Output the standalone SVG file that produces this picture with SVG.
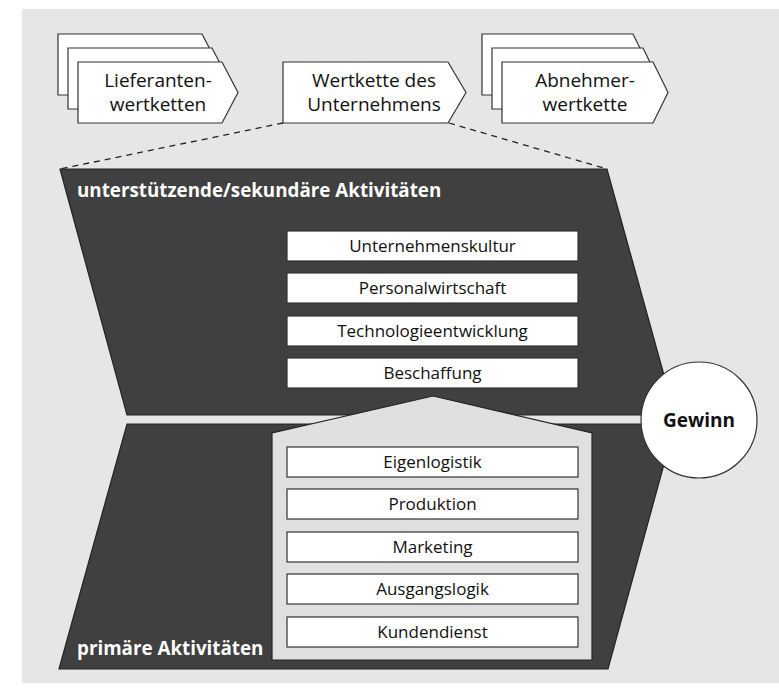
<svg xmlns="http://www.w3.org/2000/svg" width="779" height="689" viewBox="0 0 779 689">
<style>
.bg{fill:#e6e6e6}
.card{fill:#fff;stroke:#333;stroke-width:1.2}
.dark{fill:#404040;stroke:#222;stroke-width:1.2}
.house{fill:#e0e0e0;stroke:#222;stroke-width:1.2}
.box{fill:#fff;stroke:#333;stroke-width:1.2}
.t{font-family:"Open Sans","Noto Sans",sans-serif;fill:#111;text-anchor:middle}
.big{font-size:19px}
.small{font-size:17px}
.hd{font-family:"Open Sans","Noto Sans",sans-serif;font-weight:bold;font-size:18.8px;fill:#fff}
.gw{font-family:"Open Sans","Noto Sans",sans-serif;font-weight:bold;font-size:19px;fill:#111;text-anchor:middle}
.dash{fill:none;stroke:#222;stroke-width:1.3;stroke-dasharray:6 5}
</style>
<rect class="bg" x="22" y="9" width="757" height="674"/>

<g id="lieferanten">
<path class="card" d="M58,34 H202 L218,64.5 L202,95 H58 Z"/>
<path class="card" d="M68,48 H212 L228,78.5 L212,109 H68 Z"/>
<path class="card" d="M78,62 H222 L238,92.5 L222,123 H78 Z"/>
<text class="t big" x="158" y="87">Lieferanten-</text>
<text class="t big" x="158" y="111">wertketten</text>
</g>

<g id="unternehmen">
<path class="card" d="M283,62 H448 L466,92.5 L448,123 H283 Z"/>
<text class="t big" x="374" y="87">Wertkette des</text>
<text class="t big" x="374" y="111">Unternehmens</text>
</g>

<g id="abnehmer">
<path class="card" d="M482,34 H633 L648,64.5 L633,95 H482 Z"/>
<path class="card" d="M492,48 H643 L658,78.5 L643,109 H492 Z"/>
<path class="card" d="M502,62 H653 L668,92.5 L653,123 H502 Z"/>
<text class="t big" x="585" y="87">Abnehmer-</text>
<text class="t big" x="585" y="111">wertkette</text>
</g>

<g id="connectors">
<line class="dash" x1="283" y1="123" x2="60" y2="169"/>
<line class="dash" x1="449" y1="123" x2="607" y2="169"/>
</g>

<g id="sekundaer">
<path class="dark" d="M60,169 H607 L675,415 H127 Z"/>
<text class="hd" x="77" y="197">unterstützende/sekundäre Aktivitäten</text>
</g>

<g id="primaer">
<path class="dark" d="M127,424 H675 L608,669 H59 Z"/>
<path class="house" d="M433,396 L592,433 V660 H272 V433 Z"/>
<text class="hd" x="77" y="655">primäre Aktivitäten</text>
</g>

<g id="unternehmenskultur">
<rect class="box" x="287" y="231" width="291" height="30"/>
<text class="t small" x="432.5" y="252">Unternehmenskultur</text>
</g>
<g id="personalwirtschaft">
<rect class="box" x="287" y="273" width="291" height="30"/>
<text class="t small" x="432.5" y="294">Personalwirtschaft</text>
</g>
<g id="technologieentwicklung">
<rect class="box" x="287" y="316" width="291" height="30"/>
<text class="t small" x="432.5" y="337">Technologieentwicklung</text>
</g>
<g id="beschaffung">
<rect class="box" x="287" y="358" width="291" height="30"/>
<text class="t small" x="432.5" y="379">Beschaffung</text>
</g>

<g id="eigenlogistik">
<rect class="box" x="287" y="447" width="291" height="30"/>
<text class="t small" x="432.5" y="468">Eigenlogistik</text>
</g>
<g id="produktion">
<rect class="box" x="287" y="489" width="291" height="30"/>
<text class="t small" x="432.5" y="510">Produktion</text>
</g>
<g id="marketing">
<rect class="box" x="287" y="532" width="291" height="30"/>
<text class="t small" x="432.5" y="553">Marketing</text>
</g>
<g id="ausgangslogik">
<rect class="box" x="287" y="574" width="291" height="30"/>
<text class="t small" x="432.5" y="595">Ausgangslogik</text>
</g>
<g id="kundendienst">
<rect class="box" x="287" y="617" width="291" height="30"/>
<text class="t small" x="432.5" y="638">Kundendienst</text>
</g>

<g id="gewinn">
<circle cx="699" cy="420" r="58" fill="#fff" stroke="#333" stroke-width="1.2"/>
<text class="gw" x="699" y="427">Gewinn</text>
</g>
</svg>
